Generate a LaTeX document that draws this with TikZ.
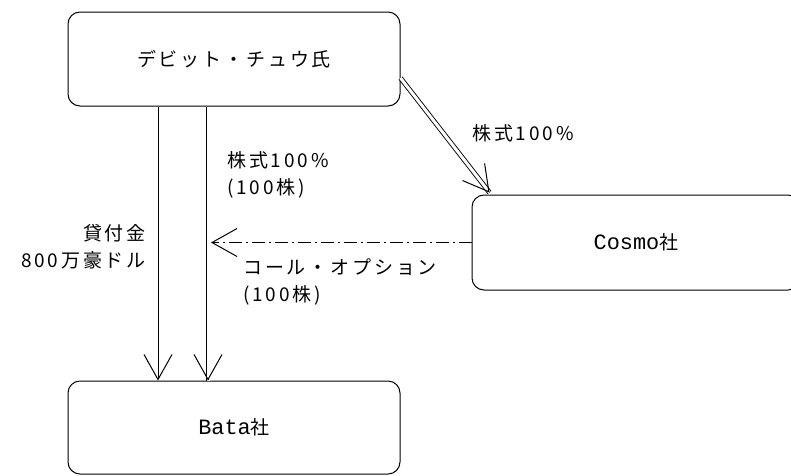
\documentclass[tikz,border=0pt]{standalone}
\usepackage{fontspec}
\setmainfont{Noto Sans CJK JP}[LetterSpace=15]
\newfontfamily\latinmono{Liberation Mono}[Scale=1.15]
\usetikzlibrary{arrows.meta,calc}

% text size used for every label
\newcommand\lblfont{\fontsize{19}{27}\selectfont}

\tikzset{
  box/.style={draw, rounded corners=12pt, line width=1pt, inner sep=0pt, font=\lblfont},
  lbl/.style={inner sep=0pt, font=\lblfont},
  conn/.style={line width=1pt},
  dbl/.style={double, double distance=3pt, line width=0.9pt},
  tip/.style={-{Straight Barb[length=25pt,width=28pt,line width=1pt]}},
}

\begin{document}
\begin{tikzpicture}[x=1pt,y=-1pt]
  \useasboundingbox (0,0) rectangle (791,475);
  \clip (0,0) rectangle (791,475);

  % parties
  \node[box, minimum width=332pt, minimum height=94pt] (chu) at (234,59) {デビット・チュウ氏};
  \node[box, minimum width=328pt, minimum height=95pt] (cosmo) at (636,242.5) {{\latinmono Cosmo}社};
  \node[box, minimum width=332pt, minimum height=93pt] (bata) at (234,427.5) {{\latinmono Bata}社};

  % loan
  \draw[conn, tip] ([xshift=-76pt]chu.south) -- ([xshift=-76pt]bata.north);

  % shareholding in Bata (double line)
  \draw[dbl] ([xshift=-26pt]chu.south) -- ([xshift=-26pt]bata.north);
  \draw[conn, tip] ([xshift=-26pt,yshift=1pt]bata.north) -- ([xshift=-26pt]bata.north);

  % shareholding in Cosmo (double line)
  \coordinate (ds) at ([yshift=-19pt]chu.east);
  \coordinate (de) at ([xshift=18pt,yshift=2pt]cosmo.north west);
  \draw[dbl] (ds) -- (de);
  \draw[conn, tip] ($(de)!1pt!(ds)$) -- (de);

  % call option
  \coordinate (optend) at (211,242.5);
  \draw[conn, tip, dash pattern=on 13pt off 4pt on 2pt off 4pt] (cosmo.west) -- (optend);

  % labels
  \node[lbl, anchor=west] (l1) at (472,133) {株式100\%};
  \node[lbl, anchor=west, align=left] (l2) at (227,175) {株式100\%\\(100株)};
  \node[lbl, anchor=east, align=right] (l3) at (146,246.5) {貸付金\\800万豪ドル};
  \node[lbl, anchor=west, align=left] (l4) at (243,281.5) {コール・オプション\\(100株)};
\end{tikzpicture}
\end{document}
